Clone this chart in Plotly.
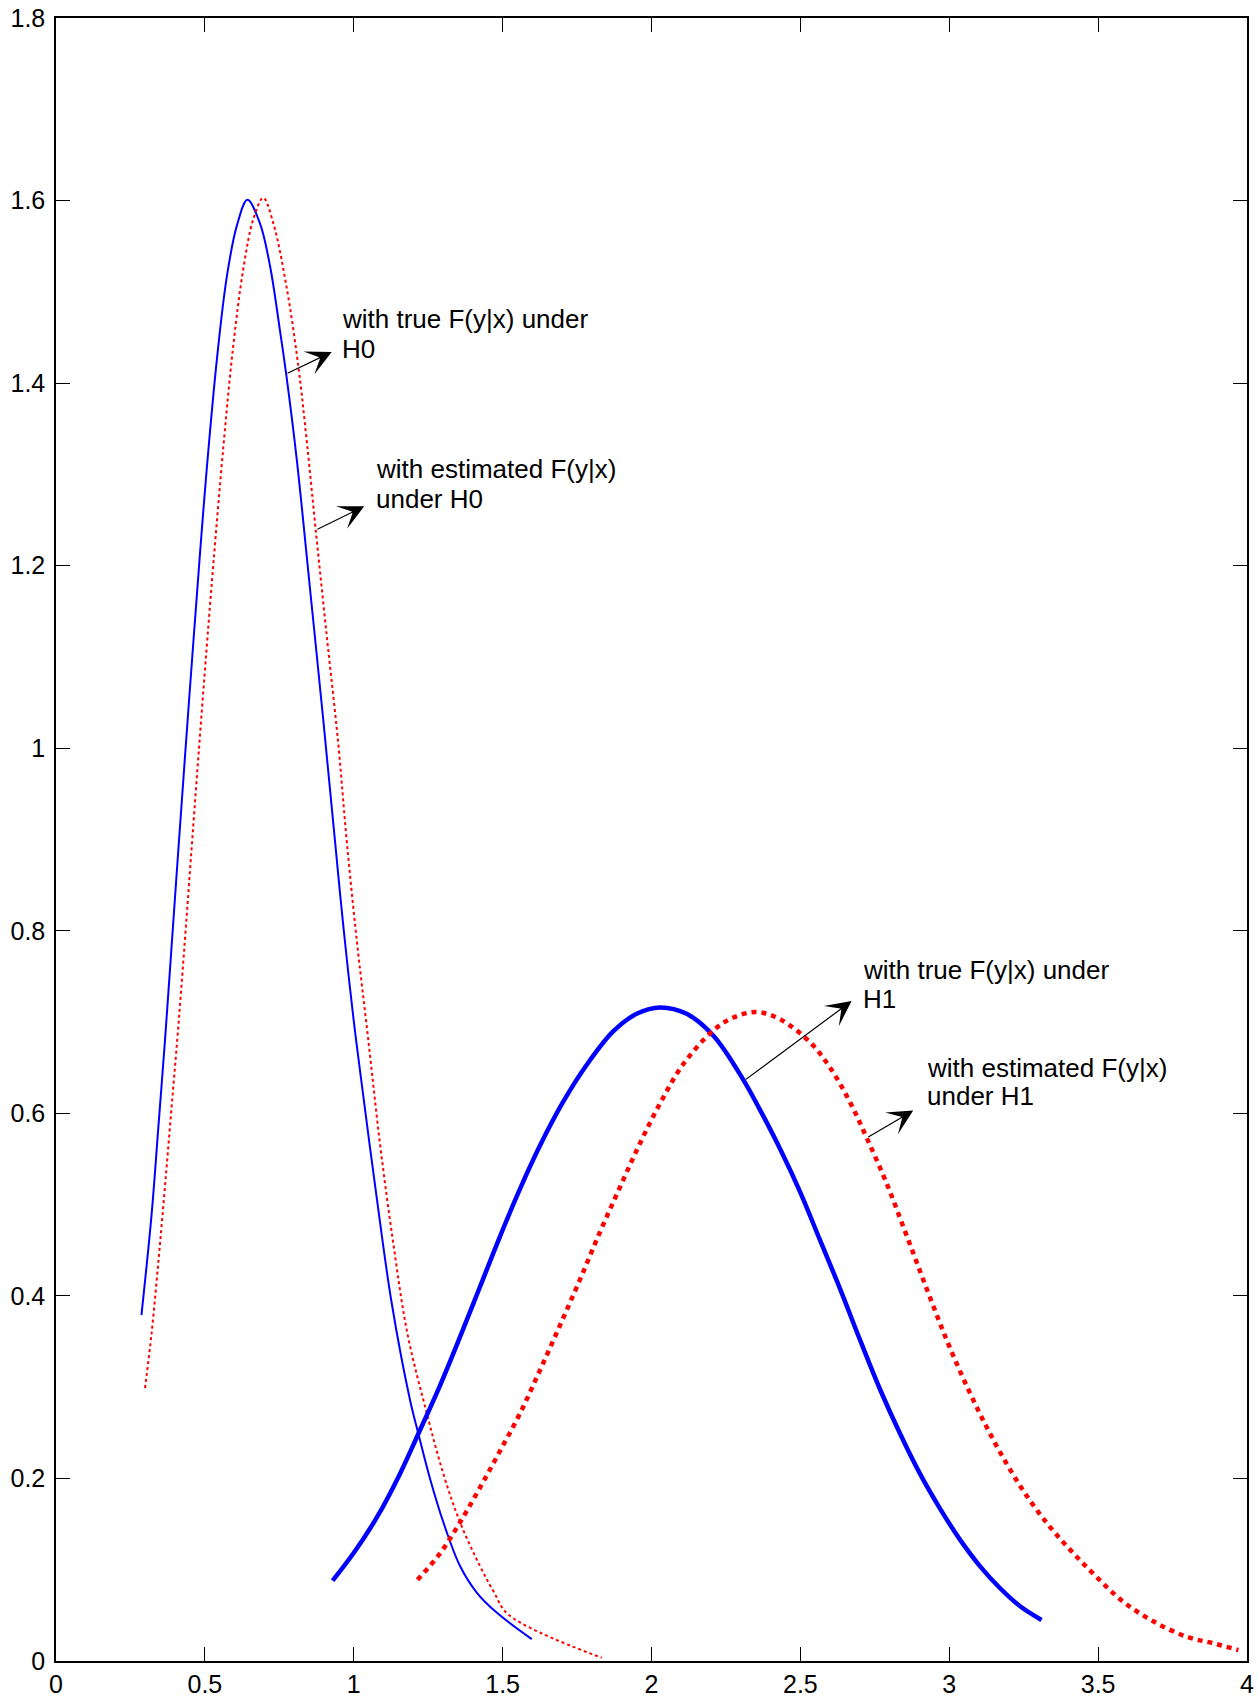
import plotly.graph_objects as go

# ---------------- data ----------------
h0_true_x = [0.287, 0.321, 0.344, 0.366, 0.388, 0.409, 0.433, 0.461, 0.484, 0.506,
             0.540, 0.573, 0.607, 0.643, 0.685, 0.719, 0.752, 0.773, 0.808, 0.853,
             0.898, 0.935, 0.965, 0.999, 1.038, 1.077, 1.127, 1.189, 1.217, 1.256,
             1.301, 1.357, 1.413, 1.480, 1.598]
h0_true_y = [0.379, 0.489, 0.586, 0.680, 0.782, 0.880, 0.990, 1.115, 1.215, 1.305,
             1.425, 1.515, 1.572, 1.601, 1.575, 1.528, 1.458, 1.410, 1.318, 1.175,
             1.030, 0.905, 0.805, 0.704, 0.604, 0.508, 0.393, 0.286, 0.249, 0.200,
             0.152, 0.104, 0.075, 0.053, 0.024]

h0_est_x = [0.299, 0.321, 0.344, 0.366, 0.388, 0.411, 0.433, 0.452, 0.478, 0.506,
            0.528, 0.562, 0.595, 0.629, 0.663, 0.696, 0.730, 0.775, 0.814, 0.842,
            0.872, 0.909, 0.948, 0.976, 1.010, 1.049, 1.088, 1.133, 1.180, 1.240,
            1.301, 1.357, 1.424, 1.470, 1.519, 1.833]
h0_est_y = [0.299, 0.359, 0.438, 0.520, 0.606, 0.696, 0.790, 0.875, 0.990, 1.110,
            1.200, 1.330, 1.440, 1.525, 1.580, 1.603, 1.575, 1.504, 1.418, 1.337,
            1.240, 1.124, 1.005, 0.900, 0.790, 0.680, 0.567, 0.457, 0.359, 0.278,
            0.205, 0.152, 0.104, 0.076, 0.051, 0.0035]

h1_true_x = [0.929, 0.999, 1.077, 1.155, 1.217, 1.290, 1.357, 1.424, 1.491, 1.558,
             1.626, 1.704, 1.782, 1.872, 1.950, 2.029, 2.118, 2.208, 2.308, 2.364,
             2.432, 2.499, 2.566, 2.633, 2.700, 2.767, 2.835, 2.902, 2.969, 3.036,
             3.103, 3.170, 3.238, 3.310]
h1_true_y = [0.088, 0.118, 0.157, 0.205, 0.249, 0.302, 0.355, 0.410, 0.465, 0.517,
             0.565, 0.613, 0.653, 0.690, 0.709, 0.716, 0.709, 0.685, 0.637, 0.604,
             0.561, 0.514, 0.461, 0.408, 0.352, 0.298, 0.249, 0.205, 0.167, 0.133,
             0.104, 0.080, 0.060, 0.045]

h1_est_x = [1.214, 1.290, 1.357, 1.424, 1.491, 1.558, 1.626, 1.693, 1.760, 1.827,
            1.894, 1.961, 2.029, 2.107, 2.208, 2.275, 2.353, 2.432, 2.532, 2.600,
            2.667, 2.723, 2.790, 2.857, 2.924, 2.991, 3.059, 3.126, 3.193, 3.260,
            3.338, 3.417, 3.495, 3.584, 3.685, 3.797, 3.887, 3.971]
h1_est_y = [0.089, 0.118, 0.152, 0.190, 0.230, 0.271, 0.319, 0.368, 0.418, 0.470,
            0.519, 0.567, 0.611, 0.654, 0.691, 0.705, 0.711, 0.703, 0.678, 0.650,
            0.612, 0.573, 0.523, 0.466, 0.408, 0.352, 0.301, 0.256, 0.216, 0.181,
            0.147, 0.118, 0.092, 0.065, 0.0435, 0.0266, 0.0194, 0.012]

x_ticks = [0, 0.5, 1, 1.5, 2, 2.5, 3, 3.5, 4]
x_tick_labels = ["0", "0.5", "1", "1.5", "2", "2.5", "3", "3.5", "4"]
y_ticks = [0, 0.2, 0.4, 0.6, 0.8, 1.0, 1.2, 1.4, 1.6, 1.8]
y_tick_labels = ["0", "0.2", "0.4", "0.6", "0.8", "1", "1.2", "1.4", "1.6", "1.8"]

# annotation texts (two lines each), text anchor, arrow tail (on curve) and arrow tip
label_lines = [["with true F(y|x) under", "H0"],
               ["with estimated F(y|x)", "under H0"],
               ["with true F(y|x) under", "H1"],
               ["with estimated F(y|x)", "under H1"]]
label_pos = [(0.955, 1.470, 1.437), (1.067, 1.306, 1.273),
             (2.702, 0.757, 0.725), (2.917, 0.650, 0.619)]
arrow_tail = [(0.7725, 1.410), (0.873, 1.239), (2.312, 0.636), (2.723, 0.573)]
arrow_tip = [(0.926, 1.434), (1.035, 1.265), (2.672, 0.723), (2.879, 0.603)]

# ---------------- figure ----------------
fig = go.Figure()
fig.add_trace(go.Scatter(x=h0_true_x, y=h0_true_y, mode="lines",
                         line=dict(color="#0000ff", width=2, shape="spline", smoothing=1)))
fig.add_trace(go.Scatter(x=h0_est_x, y=h0_est_y, mode="lines",
                         line=dict(color="#ff0000", width=2, dash="3px,3px", shape="spline", smoothing=1)))
fig.add_trace(go.Scatter(x=h1_true_x, y=h1_true_y, mode="lines",
                         line=dict(color="#0000ff", width=4.5, shape="spline", smoothing=1)))
fig.add_trace(go.Scatter(x=h1_est_x, y=h1_est_y, mode="lines",
                         line=dict(color="#ff0000", width=4.5, dash="5px,5px", shape="spline", smoothing=1)))

annotations = []
for lines, (lx, ly1, ly2) in zip(label_lines, label_pos):
    for txt, ly in zip(lines, (ly1, ly2)):
        annotations.append(dict(x=lx, y=ly, xref="x", yref="y", text=txt, showarrow=False,
                                xanchor="left", yanchor="middle",
                                font=dict(family="Liberation Sans, Arial", size=26, color="black")))
for (tx, ty), (hx, hy) in zip(arrow_tail, arrow_tip):
    annotations.append(dict(x=hx, y=hy, ax=tx, ay=ty, xref="x", yref="y", axref="x", ayref="y",
                            text="", showarrow=True, arrowhead=3, arrowsize=3.5,
                            arrowwidth=1.2, arrowcolor="black"))

axis_common = dict(showline=True, linecolor="black", linewidth=1.5, mirror="ticks",
                   ticks="inside", ticklen=14, tickwidth=1, tickcolor="black",
                   showgrid=False, zeroline=False, automargin=False,
                   ticklabeloverflow="allow",
                   tickfont=dict(family="Liberation Sans, Arial", size=25, color="black"))

fig.update_layout(
    width=1259, height=1699,
    margin=dict(l=56, r=12, t=18, b=38, autoexpand=False),
    plot_bgcolor="white", paper_bgcolor="white",
    showlegend=False,
    annotations=annotations,
    xaxis=dict(range=[0, 4], tickvals=x_ticks, ticktext=x_tick_labels,
               ticklabelstandoff=0, **axis_common),
    yaxis=dict(range=[0, 1.8], tickvals=y_ticks, ticktext=y_tick_labels,
               ticklabelstandoff=4, **axis_common),
)

# remove the page's default body margin so the figure fills the window exactly
fig.write_html("out.html", config={"displayModeBar": False},
               post_script="document.body.style.margin='0';")
